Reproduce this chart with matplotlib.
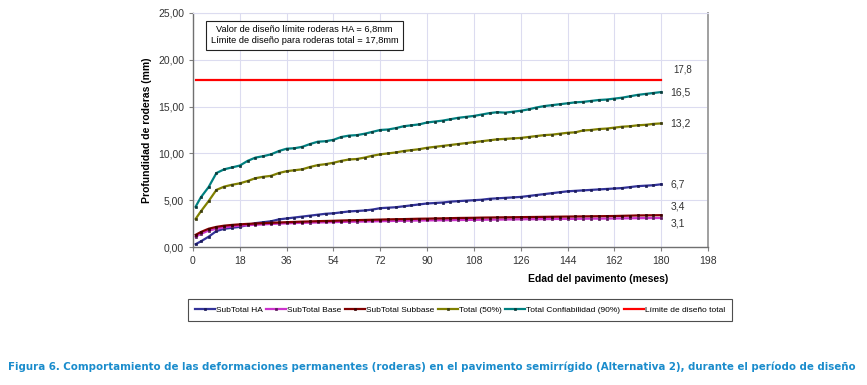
import matplotlib
matplotlib.use("Agg")
import matplotlib.pyplot as plt
from matplotlib.ticker import FuncFormatter

plt.rcParams['font.family'] = ['Liberation Sans', 'DejaVu Sans']

# months: 1, then every 3 months to 180
months = [1] + list(range(3, 181, 3))

subtotal_ha = [
    0.30, 0.60, 1.10, 1.70, 1.95, 2.05, 2.15, 2.35, 2.55, 2.65,
    2.75, 2.95, 3.05, 3.15, 3.25, 3.35, 3.45, 3.55, 3.60, 3.70,
    3.80, 3.85, 3.90, 4.00, 4.15, 4.20, 4.25, 4.35, 4.45, 4.55,
    4.65, 4.70, 4.75, 4.85, 4.90, 4.95, 5.00, 5.05, 5.15, 5.20,
    5.25, 5.30, 5.35, 5.45, 5.55, 5.65, 5.75, 5.85, 5.95, 6.00,
    6.05, 6.10, 6.15, 6.20, 6.25, 6.30, 6.40, 6.50, 6.55, 6.60,
    6.70]
subtotal_base = [
    1.10, 1.40, 1.75, 1.95, 2.10, 2.20, 2.28, 2.33, 2.38, 2.42,
    2.46, 2.50, 2.53, 2.56, 2.58, 2.60, 2.62, 2.64, 2.66, 2.68,
    2.70, 2.71, 2.73, 2.74, 2.76, 2.77, 2.79, 2.80, 2.82, 2.83,
    2.84, 2.85, 2.86, 2.87, 2.88, 2.89, 2.90, 2.91, 2.92, 2.93,
    2.94, 2.95, 2.96, 2.97, 2.97, 2.98, 2.99, 3.00, 3.00, 3.01,
    3.02, 3.03, 3.03, 3.04, 3.05, 3.06, 3.07, 3.08, 3.09, 3.09,
    3.10]
subtotal_subbase = [
    1.30, 1.60, 1.95, 2.15, 2.28, 2.36, 2.42, 2.47, 2.51, 2.55,
    2.58, 2.62, 2.65, 2.68, 2.71, 2.73, 2.76, 2.78, 2.80, 2.83,
    2.85, 2.87, 2.89, 2.91, 2.93, 2.95, 2.97, 2.98, 3.00, 3.02,
    3.03, 3.05, 3.06, 3.08, 3.10, 3.11, 3.12, 3.14, 3.15, 3.16,
    3.17, 3.18, 3.19, 3.20, 3.21, 3.22, 3.23, 3.24, 3.25, 3.26,
    3.27, 3.28, 3.29, 3.30, 3.31, 3.33, 3.35, 3.37, 3.38, 3.39,
    3.40]
total_50 = [
    3.00, 3.80, 4.90, 6.10, 6.45, 6.65, 6.80, 7.05, 7.35, 7.50,
    7.60, 7.90, 8.10, 8.20, 8.30, 8.55, 8.75, 8.85, 9.00, 9.20,
    9.35, 9.40, 9.55, 9.75, 9.90, 10.00, 10.10, 10.25, 10.35, 10.45,
    10.60, 10.70, 10.80, 10.90, 11.00, 11.10, 11.20, 11.30, 11.40, 11.50,
    11.55, 11.60, 11.65, 11.75, 11.85, 11.95, 12.00, 12.10, 12.20, 12.25,
    12.45, 12.50, 12.60, 12.65, 12.75, 12.85, 12.90, 13.00, 13.05, 13.15,
    13.20]
total_90 = [
    4.30, 5.30, 6.40, 7.90, 8.30, 8.50, 8.70, 9.20, 9.55, 9.70,
    9.90, 10.25, 10.50, 10.55, 10.70, 11.00, 11.25, 11.30, 11.45, 11.75,
    11.90, 11.95, 12.10, 12.30, 12.50, 12.55, 12.70, 12.90, 13.00, 13.10,
    13.30, 13.40, 13.50, 13.65, 13.80, 13.90, 14.00, 14.15, 14.30, 14.40,
    14.35, 14.45, 14.55, 14.70, 14.90, 15.05, 15.15, 15.25, 15.35, 15.45,
    15.50, 15.60, 15.70, 15.75, 15.85, 15.95, 16.10, 16.25, 16.35, 16.45,
    16.55]
limit_total = 17.8

series_names = ['SubTotal HA', 'SubTotal Base', 'SubTotal Subbase',
                'Total (50%)', 'Total Confiabilidad (90%)']
end_labels = ['6,7', '3,1', '3,4', '13,2', '16,5']
limit_label = '17,8'
limit_name = 'Límite de diseño total'
note = ('Valor de diseño límite roderas HA = 6,8mm\n'
        'Límite de diseño para roderas total = 17,8mm')
caption = ('Figura 6. Comportamiento de las deformaciones permanentes (roderas) '
           'en el pavimento semirrígido (Alternativa 2), durante el período de diseño')

fig = plt.figure(figsize=(8.67, 3.85), dpi=100)
ax = fig.add_axes([0.2226, 0.3584, 0.594, 0.608])

data = [subtotal_ha, subtotal_base, subtotal_subbase, total_50, total_90]
colors = ['#333399', '#cc33cc', '#800000', '#808000', '#008080']
edge = ['#1a1a5a', '#5a1a5a', '#3a0000', '#3a3a10', '#0a3a3a']
label_dy = [0, -0.55, 0.95, 0, 0]

for vals, c, ec, name, lab, dy in zip(data, colors, edge, series_names,
                                      end_labels, label_dy):
    ax.plot(months, vals, color=c, lw=1.6, marker='s', ms=1.8,
            mec=ec, mfc=ec, mew=0.5, label=name)
    ax.text(months[-1] + 3.5, vals[-1] + dy, lab, fontsize=7.5,
            va='center', ha='left', color='#333333')

ax.plot([months[0], months[-1]], [limit_total, limit_total], color='#ff0000',
        lw=1.6, label=limit_name)
ax.text(months[-1] + 4.5, limit_total + 1.2, limit_label, fontsize=7,
        va='center', ha='left', color='#333333')

ax.set_xlim(0, 198)
ax.set_ylim(0, 25)
ax.set_xticks(range(0, 199, 18))
ax.set_yticks([0, 5, 10, 15, 20, 25])
ax.yaxis.set_major_formatter(FuncFormatter(lambda v, p: f'{v:.2f}'.replace('.', ',')))
ax.tick_params(labelsize=7.5, length=3, color='#808080', labelcolor='#333333')
ax.grid(True, color='#dcdcf0', lw=0.8)
ax.set_axisbelow(True)
for s in ['left', 'bottom']:
    ax.spines[s].set_color('#707070')
    ax.spines[s].set_linewidth(1.0)
ax.spines['right'].set_color('#a0a0a0')
ax.spines['right'].set_linewidth(1.4)
ax.spines['top'].set_color('#dcdcf0')

ax.text(0.217, 0.905, note, transform=ax.transAxes, fontsize=6.7,
        ha='center', va='center', linespacing=1.25,
        bbox=dict(boxstyle='square,pad=0.5', fc='white', ec='#222222', lw=0.8))

fig.text(147 / 867, 1 - 130 / 385, 'Profundidad de roderas (mm)', rotation=90,
         fontsize=7.5, fontweight='bold', ha='center', va='center')
fig.text(598 / 867, 1 - 279 / 385, 'Edad del pavimento (meses)',
         fontsize=7.5, fontweight='bold', ha='center', va='center')

leg = fig.legend(loc='center', bbox_to_anchor=(460 / 867, 1 - 310 / 385),
                 ncol=6, fontsize=6.0, frameon=True, fancybox=False,
                 handlelength=2.4, handletextpad=0.15, columnspacing=0.4,
                 borderpad=0.8, markerscale=1.0)
leg.get_frame().set_edgecolor('#222222')
leg.get_frame().set_linewidth(0.8)

cap = fig.text(8 / 867, 1 - 367 / 385, caption, fontsize=10.5, fontweight='bold',
               color='#1a8ccc', ha='left', va='center', fontstretch='condensed',
               family=['DejaVu Sans', 'Liberation Sans'])
# shrink the caption until it spans the same width as in the figure
r = fig.canvas.get_renderer()
w = cap.get_window_extent(r).width
cap.set_fontsize(10.5 * min(1.0, 852 / w))

fig.savefig('out.png', dpi=100)
